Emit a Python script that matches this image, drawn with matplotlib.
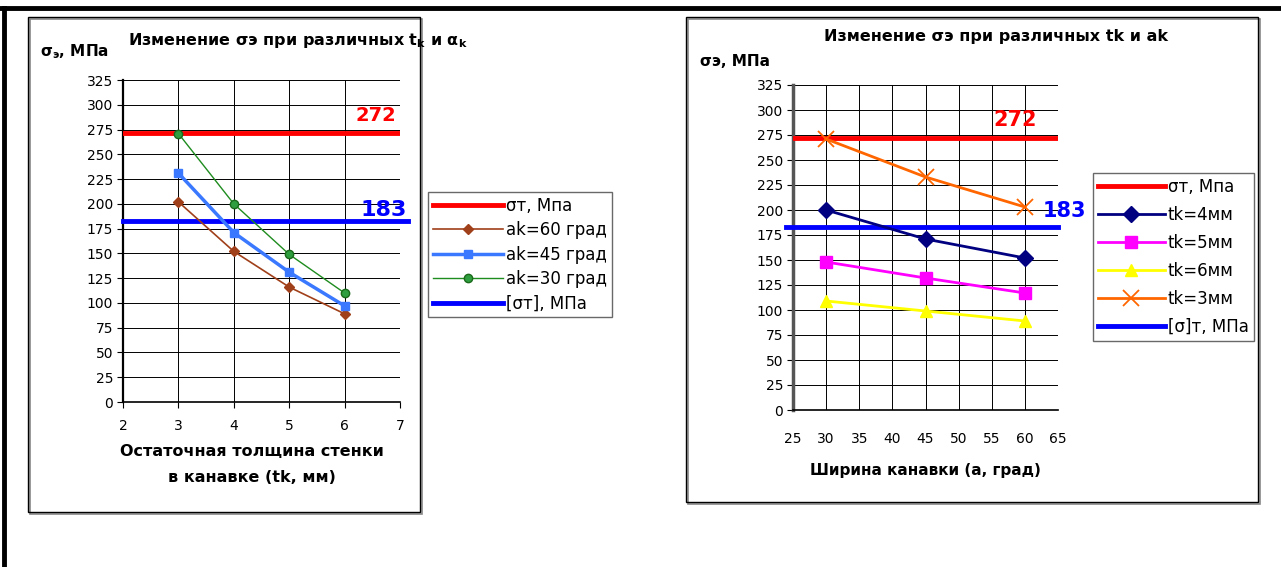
import matplotlib
matplotlib.use("Agg")
import matplotlib.pyplot as plt
from matplotlib.patches import Rectangle
from matplotlib.lines import Line2D

plt.rcParams['font.family'] = ['DejaVu Sans']
plt.rcParams['mathtext.fontset'] = 'dejavusans'

# Left chart data: wall thickness tk vs stress for different groove angles
tk = [3, 4, 5, 6]
ak60 = [202, 152, 116, 89]
ak45 = [231, 171, 131, 97]
ak30 = [271, 200, 149, 110]

# Right chart data: groove angle vs stress for different tk
angle = [30, 45, 60]
tk4 = [200, 171, 152]
tk5 = [148, 132, 117]
tk6 = [109, 99, 89]
tk3 = [271, 233, 203]

sigma_t = 272
sigma_allow = 183

W, H = 1281, 567


def fx(x):
    return x / W


def fy(y):
    return 1 - y / H


fig = plt.figure(figsize=(W / 100, H / 100), dpi=100)

# outer frame (top + left thick lines)
fig.add_artist(Line2D([0, 1], [fy(8), fy(8)], lw=3.5, color='k'))
fig.add_artist(Line2D([fx(4), fx(4)], [fy(8), 0], lw=3.5, color='k'))

# chart boxes with a little shadow
for x0, y0, x1, y1 in [(28, 17, 420, 512), (686, 17, 1258, 502)]:
    fig.add_artist(Rectangle((fx(x0 + 2), fy(y1 + 2)), fx(x1 - x0), (y1 - y0) / H,
                             fill=False, ec='#888888', lw=1.2))
    fig.add_artist(Rectangle((fx(x0), fy(y1)), fx(x1 - x0), (y1 - y0) / H,
                             fill=False, ec='k', lw=1.0))


def style_axes(ax):
    ax.set_ylim(0, 325)
    ax.set_yticks(range(0, 326, 25))
    ax.grid(True, color='k', lw=0.7)
    ax.set_axisbelow(True)
    for s in ['top', 'right']:
        ax.spines[s].set_visible(False)
    ax.spines['left'].set_linewidth(1.6)
    ax.spines['bottom'].set_linewidth(1.2)
    ax.tick_params(direction='out', length=4, labelsize=10, pad=3)


leg_kw = dict(bbox_transform=fig.transFigure, fontsize=12, frameon=True, fancybox=False,
              edgecolor='#444444', handletextpad=0.2, borderpad=0.3,
              borderaxespad=0, loc='upper left')

# ---------------- left chart ----------------
ax1 = fig.add_axes([fx(123), fy(402), fx(400 - 123), (402 - 80) / H])
style_axes(ax1)
ax1.set_xlim(2, 7)
ax1.set_xticks(range(2, 8))
ax1.tick_params(axis='x', pad=8)

ax1.axhline(sigma_t, color='#ff0000', lw=3.5, label='σт, Мпа', zorder=3)
ax1.plot(tk, ak60, color='#a0401a', lw=1.2, marker='D', ms=5, label='ak=60 град', zorder=4)
ax1.plot(tk, ak45, color='#3a78ff', lw=2.5, marker='s', ms=6, label='ak=45 град', zorder=4)
ax1.plot(tk, ak30, color='#1e8c1e', lw=1.0, marker='o', ms=6, mfc='#2e9e3e',
         mec='#1a6a1a', label='ak=30 град', zorder=4)
ax1.plot([2, 7.15], [sigma_allow, sigma_allow], color='#0000ff', lw=3.5,
         label='[σт], МПа', clip_on=False, zorder=3)

ax1.text(6.93, 289, str(sigma_t), color='#ff0000', fontsize=14, fontweight='bold',
         ha='right', va='center')
ax1.text(7.12, 194, str(sigma_allow), color='#0000ff', fontsize=16, fontweight='bold',
         ha='right', va='center', clip_on=False)

ax1.legend(bbox_to_anchor=(fx(428), fy(192)), labelspacing=0.38, handlelength=4.2,
           **leg_kw)

fig.text(fx(298), fy(40), 'Изменение σэ при различных t$_\\mathbf{k}$ и $\\mathbf{\\alpha_k}$',
         fontsize=11.5, fontweight='bold', ha='center', va='center')
fig.text(fx(40), fy(52), 'σ$_\\mathbf{э}$, МПа', fontsize=11, fontweight='bold',
         ha='left', va='center')
fig.text(fx(252), fy(452), 'Остаточная толщина стенки', fontsize=11.5,
         fontweight='bold', ha='center', va='center')
fig.text(fx(252), fy(477), 'в канавке (tk, мм)', fontsize=11.5,
         fontweight='bold', ha='center', va='center')

# ---------------- right chart ----------------
ax2 = fig.add_axes([fx(793), fy(410), fx(1058 - 793), (410 - 85) / H])
style_axes(ax2)
ax2.set_xlim(25, 65)
ax2.set_xticks(range(25, 66, 5))
ax2.tick_params(axis='x', length=0, pad=16)
ax2.spines['left'].set_color('#555555')
ax2.spines['left'].set_linewidth(2.5)

ax2.axhline(sigma_t, color='#ff0000', lw=3.5, label='σт, Мпа', zorder=3)
ax2.plot(angle, tk4, color='#000080', lw=2, marker='D', ms=8, label='tk=4мм', zorder=4)
ax2.plot(angle, tk5, color='#ff00ff', lw=2, marker='s', ms=8, label='tk=5мм', zorder=4)
ax2.plot(angle, tk6, color='#ffff00', lw=2, marker='^', ms=9, label='tk=6мм', zorder=4)
ax2.plot(angle, tk3, color='#ff6600', lw=2, marker='x', ms=11, mew=1.3,
         label='tk=3мм', zorder=4)
ax2.plot([24.0, 65], [sigma_allow, sigma_allow], color='#0000ff', lw=3.5,
         label='[σ]т, МПа', clip_on=False, zorder=3)

ax2.text(61.8, 290, str(sigma_t), color='#ff0000', fontsize=15, fontweight='bold',
         ha='right', va='center')
ax2.text(69.2, 199, str(sigma_allow), color='#0000ff', fontsize=15, fontweight='bold',
         ha='right', va='center', clip_on=False)

ax2.legend(bbox_to_anchor=(fx(1093), fy(173)), labelspacing=0.6, handlelength=4.0,
           **leg_kw)

fig.text(fx(996), fy(37), 'Изменение σэ при различных tk и ak', fontsize=11.5,
         fontweight='bold', ha='center', va='center')
fig.text(fx(700), fy(62), 'σэ, МПа', fontsize=11, fontweight='bold',
         ha='left', va='center')
fig.text(fx(925), fy(471), 'Ширина канавки (а, град)', fontsize=11,
         fontweight='bold', ha='center', va='center')

fig.savefig('out.png', dpi=100)
